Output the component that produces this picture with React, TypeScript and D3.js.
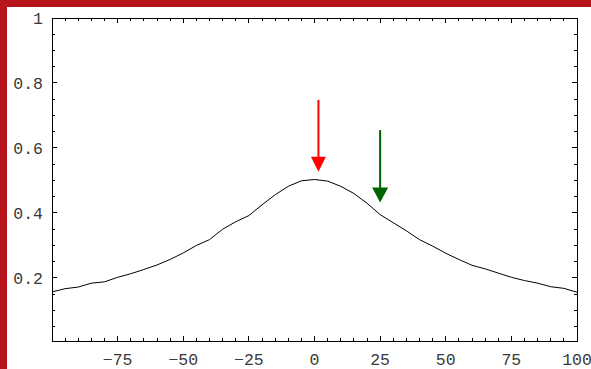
import React from "react";
import * as d3 from "d3";

// Sampled curve: x from -100 to 100 in steps of 5
const xValues = [
  -100, -95, -90, -85, -80, -75, -70, -65, -60, -55, -50, -45, -40, -35, -30,
  -25, -20, -15, -10, -5, 0, 5, 10, 15, 20, 25, 30, 35, 40, 45, 50, 55, 60, 65,
  70, 75, 80, 85, 90, 95, 100,
];
const yValues = [
  0.157, 0.167, 0.172, 0.184, 0.188, 0.202, 0.213, 0.226, 0.24, 0.257, 0.277,
  0.3, 0.318, 0.35, 0.373, 0.392, 0.425, 0.456, 0.482, 0.499, 0.503, 0.498,
  0.482, 0.46, 0.43, 0.395, 0.37, 0.345, 0.318, 0.298, 0.276, 0.257, 0.239,
  0.228, 0.215, 0.202, 0.192, 0.184, 0.173, 0.168, 0.156,
];

// Arrows: x position, top of shaft, tip of head
const arrowX = [1.5, 25];
const arrowTop = [0.748, 0.655];
const arrowTip = [0.527, 0.432];
const arrowColors = ["#ff0000", "#006400"];

const xMajorTicks = [-75, -50, -25, 0, 25, 50, 75, 100];
const yMajorTicks = [0.2, 0.4, 0.6, 0.8, 1];

const W = 591;
const H = 369;
const left = 52;
const right = 577;
const top = 18;
const bottom = 341;
const border = "#b8141c";
const font = "'Liberation Mono', 'Courier New', monospace";

export default function App() {
  const x = d3.scaleLinear().domain([-100, 100]).range([left, right]);
  const y = d3.scaleLinear().domain([0.006, 1]).range([bottom, top]);

  const pts: [number, number][] = xValues.map((v, i) => [v, yValues[i]]);
  const line = d3
    .line<[number, number]>()
    .x((d) => x(d[0]))
    .y((d) => y(d[1]));

  const xMinor = d3.range(-95, 100, 5).filter((v) => v % 25 !== 0);
  const xMajorAll = [-75, -50, -25, 0, 25, 50, 75];
  const yMinor = d3
    .range(0.05, 1, 0.05)
    .filter((v) => Math.abs(v / 0.2 - Math.round(v / 0.2)) > 1e-6)
    .filter((v) => y(v) < bottom - 1);
  const yMajorAll = [0.2, 0.4, 0.6, 0.8];

  const major = 5;
  const minor = 3;

  return (
    <svg
      width={W}
      height={H}
      style={{ position: "absolute", left: 0, top: 0, background: "#fff" }}
    >
      <rect x={0} y={0} width={W} height={H} fill="#fff" />
      {/* frame */}
      <rect
        x={left}
        y={top}
        width={right - left}
        height={bottom - top}
        fill="none"
        stroke="#000"
        strokeWidth={1}
        shapeRendering="crispEdges"
      />
      <g stroke="#000" strokeWidth={1} shapeRendering="crispEdges">
        {xMinor.map((v) => (
          <g key={"xm" + v}>
            <line x1={x(v)} x2={x(v)} y1={bottom} y2={bottom - minor} />
            <line x1={x(v)} x2={x(v)} y1={top} y2={top + minor} />
          </g>
        ))}
        {xMajorAll.map((v) => (
          <g key={"xM" + v}>
            <line x1={x(v)} x2={x(v)} y1={bottom} y2={bottom - major} />
            <line x1={x(v)} x2={x(v)} y1={top} y2={top + major} />
          </g>
        ))}
        {yMinor.map((v) => (
          <g key={"ym" + v}>
            <line x1={left} x2={left + minor} y1={y(v)} y2={y(v)} />
            <line x1={right} x2={right - minor} y1={y(v)} y2={y(v)} />
          </g>
        ))}
        {yMajorAll.map((v) => (
          <g key={"yM" + v}>
            <line x1={left} x2={left + major} y1={y(v)} y2={y(v)} />
            <line x1={right} x2={right - major} y1={y(v)} y2={y(v)} />
          </g>
        ))}
      </g>
      {/* tick labels */}
      <g fontFamily={font} fontSize={16.5} fill="#3a3a3a">
        {yMajorTicks.map((v) => (
          <text key={"yl" + v} x={43} y={y(v) + 6} textAnchor="end">
            {v === 1 ? "1" : d3.format(".1f")(v)}
          </text>
        ))}
        {xMajorTicks.map((v) => (
          <text key={"xl" + v} x={x(v)} y={365} textAnchor="middle">
            {v < 0 ? "\u2212" + Math.abs(v) : String(v)}
          </text>
        ))}
      </g>
      {/* curve */}
      <path d={line(pts) || ""} fill="none" stroke="#000" strokeWidth={1} />
      {/* arrows */}
      {arrowX.map((v, i) => {
        const cx = x(v);
        const tip = y(arrowTip[i]);
        const headH = 15;
        const headW = i === 0 ? 7.5 : 8;
        return (
          <g key={"ar" + i} fill={arrowColors[i]} stroke="none">
            <rect
              x={cx - 1}
              y={y(arrowTop[i])}
              width={2}
              height={tip - headH - y(arrowTop[i]) + 1}
            />
            <path
              d={`M${cx - headW},${tip - headH} L${cx + headW},${tip - headH} L${cx},${tip} Z`}
            />
          </g>
        );
      })}
      {/* border bars */}
      <rect x={0} y={0} width={7} height={H} fill={border} />
      <rect x={0} y={0} width={W} height={7} fill={border} />
    </svg>
  );
}
